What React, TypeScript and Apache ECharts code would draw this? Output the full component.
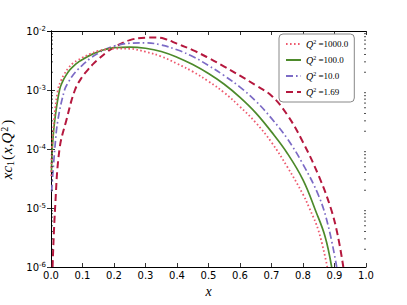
import React, { useEffect, useRef } from "react";
import * as echarts from "echarts";

// ---- data ----
const seriesNames = ["1000.0", "100.0", "10.0", "1.69"];

const q1000X = [0.001, 0.003, 0.0095, 0.022, 0.032, 0.042, 0.055, 0.07, 0.085, 0.1, 0.125, 0.15, 0.175, 0.2, 0.25, 0.3, 0.35, 0.4, 0.45, 0.5, 0.55, 0.6, 0.65, 0.7, 0.75, 0.8, 0.82, 0.85, 0.877];
const q1000Y = [3.5e-5, 1e-4, 3.1e-4, 1e-3, 1.45e-3, 1.85e-3, 2.35e-3, 2.85e-3, 3.2e-3, 3.55e-3, 4.1e-3, 4.6e-3, 4.9e-3, 5.05e-3, 5.0e-3, 4.45e-3, 3.7e-3, 2.8e-3, 2.05e-3, 1.4e-3, 9e-4, 5.2e-4, 2.8e-4, 1.3e-4, 5e-5, 1.7e-5, 1e-5, 4e-6, 1e-6];

const q100X = [0.0015, 0.004, 0.012, 0.027, 0.037, 0.047, 0.06, 0.075, 0.09, 0.1, 0.125, 0.15, 0.175, 0.2, 0.25, 0.3, 0.35, 0.4, 0.45, 0.5, 0.55, 0.6, 0.65, 0.7, 0.75, 0.8, 0.84, 0.87, 0.891];
const q100Y = [4e-5, 1e-4, 3.1e-4, 1e-3, 1.4e-3, 1.75e-3, 2.2e-3, 2.65e-3, 3.05e-3, 3.3e-3, 3.9e-3, 4.45e-3, 4.9e-3, 5.2e-3, 5.35e-3, 5.1e-3, 4.5e-3, 3.6e-3, 2.7e-3, 1.9e-3, 1.25e-3, 7.5e-4, 4.1e-4, 1.95e-4, 8.5e-5, 3e-5, 9e-6, 3.3e-6, 1e-6];

const q10X = [0.002, 0.012, 0.022, 0.043, 0.055, 0.07, 0.086, 0.1, 0.125, 0.15, 0.175, 0.2, 0.25, 0.3, 0.35, 0.4, 0.45, 0.5, 0.55, 0.6, 0.65, 0.7, 0.75, 0.8, 0.85, 0.88, 0.907];
const q10Y = [1.9e-5, 1e-4, 3.1e-4, 1e-3, 1.35e-3, 1.8e-3, 2.25e-3, 2.65e-3, 3.45e-3, 4.2e-3, 4.95e-3, 5.55e-3, 6.2e-3, 6.3e-3, 5.8e-3, 4.8e-3, 3.7e-3, 2.6e-3, 1.75e-3, 1.12e-3, 6.5e-4, 3.3e-4, 1.5e-4, 5.5e-5, 1.6e-5, 5e-6, 1e-6];

const q169X = [0.005, 0.013, 0.027, 0.049, 0.076, 0.1, 0.117, 0.135, 0.15, 0.175, 0.2, 0.25, 0.3, 0.33, 0.36, 0.4, 0.45, 0.5, 0.55, 0.6, 0.65, 0.7, 0.75, 0.8, 0.85, 0.888, 0.91, 0.928];
const q169Y = [1e-6, 1e-5, 1e-4, 3.1e-4, 1e-3, 1.7e-3, 2.2e-3, 2.8e-3, 3.3e-3, 4.3e-3, 5.3e-3, 7.0e-3, 7.7e-3, 7.75e-3, 7.4e-3, 6.1e-3, 4.75e-3, 3.5e-3, 2.5e-3, 1.75e-3, 1.2e-3, 8e-4, 3.8e-4, 1.3e-4, 3.5e-5, 1e-5, 3.5e-6, 1e-6];

const xMin = 0;
const xMax = 1;
const xInterval = 0.1;
const yMin = 1e-6;
const yMax = 1e-2;
// minor log ticks (2..9 x 10^n)
const minorTickValues: number[] = [];
for (let e = -6; e <= -3; e++) {
  for (let k = 2; k <= 9; k++) minorTickValues.push(k * Math.pow(10, e));
}

const colors = ["#ee5a6e", "#4d8a2b", "#7c6bc6", "#b5183e"];
const dashes: any[] = [[1.6, 2.4], "solid", [7, 3, 1.6, 3], [7, 4]];
const widths = [1.8, 1.7, 1.7, 2];

const zip = (xs: number[], ys: number[]) => xs.map((x, i) => [x, ys[i]]);

export default function App() {
  const ref = useRef<HTMLDivElement>(null);
  useEffect(() => {
    if (!ref.current) return;
    document.body.style.margin = "0";
    const chart = echarts.init(ref.current, null, { renderer: "svg" });
    const dataSets = [zip(q1000X, q1000Y), zip(q100X, q100Y), zip(q10X, q10Y), zip(q169X, q169Y)];
    const lineSeries = dataSets.map((d, i) => ({
      type: "line",
      name: seriesNames[i],
      data: d,
      showSymbol: false,
      symbol: "none",
      smooth: 0.4,
      clip: true,
      xAxisIndex: 0,
      yAxisIndex: 0,
      lineStyle: { color: colors[i], width: widths[i], type: dashes[i] },
      itemStyle: { color: colors[i] },
      z: 3 + (3 - i),
    }));
    const axisLine = { show: true, lineStyle: { color: "#000", width: 1 } };
    const tickStyle = { show: true, inside: true, length: 4, lineStyle: { color: "#000", width: 0.8 } };
    const labelFont = { fontFamily: "DejaVu Sans", fontSize: 10, color: "#000" };
    const option: any = {
      animation: false,
      backgroundColor: "#fff",
      grid: { left: 51, right: 41, top: 31, bottom: 38, containLabel: false, outerBoundsMode: "none" },
      legend: {
        orient: "vertical",
        left: 279,
        top: 34,
        width: 82,
        itemWidth: 15,
        itemHeight: 9,
        itemGap: 6,
        padding: [5, 6, 5, 6],
        backgroundColor: "#fff",
        borderColor: "#888",
        borderWidth: 1,
        borderRadius: 4,
        data: seriesNames,
        itemStyle: { opacity: 0, borderWidth: 0 },
        formatter: (n: string) => `{q|Q}{s|2}{t| =${n}}`,
        textStyle: {
          color: "#000",
          fontFamily: "Liberation Serif",
          fontSize: 9,
          rich: {
            q: { fontFamily: "Liberation Serif", fontStyle: "italic", fontSize: 10, color: "#000" },
            s: { fontFamily: "Liberation Serif", fontSize: 6, verticalAlign: "top", color: "#000", padding: [0, 0, 4, 0] },
            t: { fontFamily: "Liberation Serif", fontSize: 9, color: "#000" },
          },
        },
      },
      xAxis: [
        {
          type: "value",
          min: xMin,
          max: xMax,
          interval: xInterval,
          name: "x",
          nameLocation: "middle",
          nameGap: 17,
          nameTextStyle: { fontFamily: "Liberation Serif", fontStyle: "italic", fontSize: 14, color: "#000" },
          axisLine,
          axisTick: tickStyle,
          splitLine: { show: false },
          axisLabel: { ...labelFont, margin: 3, formatter: (v: number) => v.toFixed(1) },
        },
        {
          type: "value",
          position: "top",
          min: xMin,
          max: xMax,
          interval: xInterval,
          axisLine,
          axisTick: tickStyle,
          splitLine: { show: false },
          axisLabel: { show: false },
        },
      ],
      yAxis: [
        {
          type: "log",
          logBase: 10,
          min: yMin,
          max: yMax,
          name: "{i|xc}{sb|1}{n|(}{i|x,Q}{sp|2}{n|)}",
          nameLocation: "middle",
          nameRotate: 90,
          nameGap: 29,
          nameTextStyle: {
            color: "#000",
            fontFamily: "Liberation Serif",
            fontSize: 15,
            rich: {
              i: { fontFamily: "Liberation Serif", fontStyle: "italic", fontSize: 15, color: "#000" },
              n: { fontFamily: "Liberation Serif", fontSize: 15, color: "#000", padding: [0, 1, 0, 1] },
              sb: { fontFamily: "Liberation Serif", fontSize: 10, verticalAlign: "bottom", color: "#000", padding: [5, 0, 0, 0] },
              sp: { fontFamily: "Liberation Serif", fontSize: 10, verticalAlign: "top", color: "#000", padding: [0, 1, 6, 1] },
            },
          },
          axisLine,
          axisTick: tickStyle,
          splitLine: { show: false },
          axisLabel: {
            margin: 5,
            formatter: (v: number) => `{b|10}{s|${Math.round(Math.log10(v))}}`,
            rich: {
              b: { fontFamily: "DejaVu Sans", fontSize: 10, color: "#000" },
              s: { fontFamily: "DejaVu Sans", fontSize: 7, color: "#000", verticalAlign: "top", padding: [0, 0, 5, 0] },
            },
          },
        },
        {
          type: "log",
          logBase: 10,
          min: yMin,
          max: yMax,
          position: "right",
          axisLine,
          axisTick: tickStyle,
          splitLine: { show: false },
          axisLabel: { show: false },
        },
      ],
      series: [
        ...lineSeries,
        {
          type: "custom",
          name: "minorTicks",
          data: minorTickValues.map((v) => [xMin, v]),
          encode: { x: 0, y: 1 },
          silent: true,
          clip: false,
          xAxisIndex: 0,
          yAxisIndex: 0,
          z: 10,
          renderItem: (params: any, api: any) => {
            const v = api.value(1);
            const cs = params.coordSys;
            const y = api.coord([xMin, v])[1];
            const xl = cs.x;
            const xr = cs.x + cs.width;
            const st = { stroke: "#000", lineWidth: 0.7 };
            return {
              type: "group",
              children: [
                { type: "line", shape: { x1: xl, y1: y, x2: xl + 2, y2: y }, style: st },
                { type: "line", shape: { x1: xr - 2, y1: y, x2: xr, y2: y }, style: st },
              ],
            };
          },
        },
      ],
    };
    chart.setOption(option);
    return () => chart.dispose();
  }, []);
  return <div ref={ref} style={{ position: "fixed", left: 0, top: 0, width: 407, height: 305 }} />;
}
